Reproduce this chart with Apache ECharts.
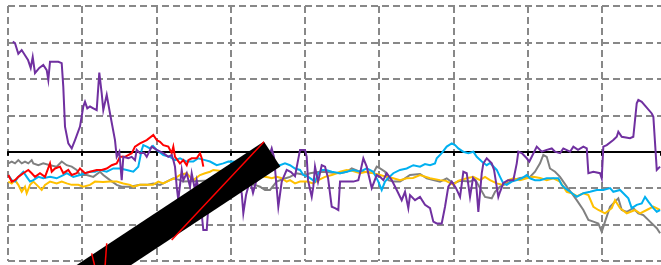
<!DOCTYPE html>
<html lang="en">

<head>
    <meta charset="UTF-8">
    <title>Line chart</title>
    <script type="text/javascript" src="https://cdn.jsdelivr.net/npm/echarts/dist/echarts.min.js"></script>
    <style>
        html,
        body {
            margin: 0;
            padding: 0;
            background: #fff;
        }

        #main {
            width: 661px;
            height: 265px;
        }
    </style>
</head>

<body>
    <div id="main"></div>

    <script type="text/javascript">
        // values: [x, y]
        var purple = [[1.27, 30.2], [1.89, 29.8], [2.78, 26.9], [3.69, 27.9], [4.58, 26.5], [5.39, 25.2], [6.12, 23.0], [6.66, 26.0], [7.28, 21.6], [8.43, 23.0], [9.51, 23.8], [10.43, 22.4], [10.86, 19.7], [11.32, 24.7], [13.56, 24.7], [14.47, 24.3], [14.9, 17.8], [15.36, 6.9], [16.25, 2.3], [17.17, 0.9], [18.06, 3.2], [19.4, 6.9], [20.29, 12.4], [20.75, 13.7], [21.37, 11.9], [22.1, 12.4], [22.99, 11.9], [23.9, 11.4], [24.6, 21.7], [25.25, 16.0], [25.68, 11.4], [26.6, 15.6], [27.49, 10.5], [28.83, 3.2], [29.29, -1.4], [29.99, 0], [30.64, -7.8], [31.07, -1.4], [32.42, -1.8], [33.34, -1.4], [34.22, -2.3], [34.68, 0.5], [35.57, -0.4], [36.65, -0.3], [37.38, -1.4], [38.72, 1.4], [40.07, 0.5], [41.85, -0.4], [43.2, -1.4], [44.11, -0.9], [44.55, -2.3], [45.0, -4.1], [45.46, -9.6], [45.89, -13.3], [46.81, -5.0], [47.24, -7.8], [48.16, -5.9], [49.05, -9.6], [49.5, -5.9], [50.39, -10.5], [50.85, -7.8], [51.74, -12.4], [52.63, -21.5], [53.09, -22.0], [53.55, -21.5], [53.98, -15.1], [57.13, -7.8], [60.36, -5.0], [62.98, -11.4], [63.41, -16.9], [64.14, -11.9], [65.21, -7.8], [66.02, -11.3], [66.83, -8.3], [68.45, -6.4], [70.06, -2.3], [71.06, 0.9], [71.68, -1.5], [72.84, -15.1], [73.76, -8.2], [75.1, -5.0], [76.26, -5.6], [77.34, -6.7], [78.69, 0.5], [80.04, 0.5], [80.49, -1.4], [80.84, -7.8], [81.84, -12.4], [82.27, -9.6], [82.73, -4.1], [83.54, -8.3], [84.54, -3.7], [85.43, -4.1], [86.24, -7.2], [87.23, -15.1], [88.12, -15.5], [89.01, -16.0], [89.47, -8.2], [91.27, -8.2], [93.05, -8.2], [94.4, -7.8], [94.86, -5.9], [95.75, -1.8], [96.66, -4.1], [98.01, -10.0], [98.44, -10.5], [99.36, -6.4], [100.25, -6.9], [101.13, -7.8], [102.05, -5.9], [103.4, -7.8], [104.75, -10.5], [106.09, -13.3], [106.98, -11.0], [107.87, -15.5], [108.33, -11.9], [109.68, -13.3], [111.02, -12.4], [112.37, -14.6], [113.72, -15.5], [114.61, -19.2], [115.53, -19.7], [116.87, -19.7], [117.76, -15.1], [118.65, -9.6], [119.57, -8.2], [120.73, -10.0], [121.81, -12.4], [122.7, -5.5], [123.61, -5.9], [124.5, -12.4], [125.31, -7.2], [126.12, -8.3], [126.74, -16.5], [127.66, -5.9], [128.09, -3.2], [129.0, -1.8], [130.35, -3.2], [130.97, -5.0], [132.13, -12.4], [132.59, -11.0], [133.48, -8.6], [134.74, -7.8], [136.17, -7.8], [137.09, -3.2], [137.52, 0], [138.44, -0.4], [139.78, -1.8], [140.48, -2.7], [141.13, -1.4], [142.48, 1.4], [143.82, 0], [145.17, 0.5], [146.52, 0.9], [147.41, 0], [148.75, -0.4], [149.64, 0.9], [151.45, 0], [152.34, 1.4], [153.6, 0.5], [155.04, 1.4], [155.96, 0.9], [156.39, -5.9], [157.74, -5.5], [159.53, -5.9], [159.99, -7.3], [160.42, 1.4], [161.34, 1.8], [163.11, 3.2], [164.03, 4.1], [164.46, 5.5], [165.38, 4.1], [167.61, 3.7], [168.5, 4.1], [169.42, 13.3], [169.85, 14.2], [170.77, 13.7], [173.47, 10.5], [173.9, 9.6], [174.82, -5.0], [175.71, -4.1]];

        var gray = [[0.08, -3.2], [1.0, -2.7], [1.89, -3.2], [2.78, -2.3], [3.69, -3.2], [4.58, -2.7], [5.47, -3.2], [6.39, -2.3], [6.82, -3.2], [8.17, -3.7], [9.51, -3.2], [11.32, -3.7], [13.12, -4.1], [14.47, -2.7], [15.82, -3.7], [17.17, -4.1], [18.51, -5.0], [19.4, -6.4], [21.21, -6.4], [22.99, -6.9], [24.79, -5.5], [25.68, -6.4], [27.49, -7.8], [29.29, -9.1], [30.64, -9.6], [32.88, -9.6], [35.57, -9.1], [37.38, -9.1], [39.16, -8.7], [40.96, -9.1], [42.77, -8.2], [44.55, -7.3], [46.35, -7.8], [47.24, -8.2], [57.13, -7.8], [63.87, -8.9], [66.56, -9.1], [67.91, -9.6], [69.26, -10.5], [70.6, -10.5], [72.41, -8.2], [74.1, -7.5], [75.99, -6.9], [77.8, -5.9], [80.04, -6.4], [81.38, -5.9], [83.54, -5.6], [85.43, -5.5], [87.58, -5.8], [89.47, -5.9], [91.27, -5.5], [92.62, -4.6], [94.32, -5.3], [96.47, -5.6], [98.44, -5.9], [99.36, -4.1], [100.25, -4.6], [101.6, -5.5], [102.48, -7.8], [103.83, -8.2], [105.64, -8.2], [106.98, -7.3], [108.33, -6.4], [111.02, -6.1], [112.83, -7.3], [114.61, -7.8], [116.41, -8.2], [118.22, -7.3], [120.0, -8.7], [121.81, -8.0], [124.5, -8.2], [125.85, -7.5], [127.19, -10.0], [128.54, -12.4], [130.35, -12.8], [131.24, -11.0], [132.59, -9.6], [134.39, -8.7], [136.17, -7.8], [137.97, -7.2], [140.66, -6.9], [142.01, -5.5], [143.36, -3.2], [144.25, -0.9], [145.17, -1.4], [146.05, -4.6], [147.41, -5.5], [148.75, -6.9], [150.56, -9.6], [151.91, -11.4], [153.25, -13.3], [155.04, -16.0], [156.39, -18.7], [157.74, -19.2], [159.08, -19.7], [159.99, -22.0], [160.88, -19.2], [162.23, -15.1], [163.57, -13.7], [164.46, -12.8], [165.38, -16.0], [166.73, -16.5], [168.5, -15.5], [169.85, -16.9], [171.2, -17.4], [173.0, -19.2], [174.82, -21.0], [175.71, -22.4]];

        var cyan = [[0.08, -6.4], [1.0, -7.8], [1.89, -8.2], [2.78, -6.9], [4.12, -5.5], [5.04, -6.9], [5.93, -8.2], [6.82, -7.8], [8.17, -6.9], [9.51, -7.3], [11.32, -6.9], [13.12, -7.3], [14.9, -6.4], [15.82, -5.9], [17.6, -6.9], [19.4, -6.4], [20.75, -5.9], [22.1, -5.5], [23.44, -5.5], [24.79, -5.0], [26.6, -5.5], [28.38, -4.6], [30.18, -4.6], [31.99, -5.0], [33.77, -5.5], [35.11, -4.1], [36.03, 0.5], [36.46, 1.8], [37.38, 1.4], [38.27, 0.9], [39.07, 1.6], [40.07, 0.5], [41.85, -0.9], [43.66, -1.4], [45.0, -2.3], [46.35, -1.8], [48.16, -2.7], [49.94, -2.7], [51.28, -1.8], [53.09, -2.3], [54.44, -2.7], [56.24, -3.7], [58.02, -3.2], [59.37, -2.7], [63.87, -2.8], [69.26, -3.1], [73.3, -3.7], [74.64, -3.2], [75.99, -3.7], [77.34, -4.6], [78.69, -5.0], [79.58, -6.4], [80.93, -6.9], [82.73, -8.2], [83.62, -5.9], [84.54, -5.0], [85.7, -5.0], [87.23, -5.5], [89.47, -5.9], [91.27, -5.5], [93.05, -5.0], [94.86, -5.5], [96.66, -4.6], [98.44, -5.5], [99.79, -8.2], [100.7, -10.5], [101.59, -8.2], [102.48, -7.2], [103.83, -5.9], [105.64, -5.0], [107.44, -4.6], [109.22, -3.7], [111.02, -4.1], [112.37, -3.4], [113.72, -3.7], [115.06, -3.2], [115.53, -1.8], [116.87, -0.4], [118.22, 1.4], [119.57, 2.3], [120.46, 1.8], [121.35, 0.9], [122.7, 0], [124.04, -0.4], [125.39, 0], [126.31, -1.4], [127.66, -2.7], [129.0, -3.7], [129.89, -3.1], [131.7, -5.0], [132.59, -6.9], [133.48, -8.7], [134.39, -9.1], [135.74, -8.2], [137.09, -7.8], [138.44, -7.3], [139.78, -6.4], [140.66, -7.3], [142.01, -7.8], [143.36, -7.8], [145.17, -7.3], [146.95, -7.3], [148.3, -7.3], [149.21, -9.1], [150.1, -10.0], [151.45, -11.0], [153.25, -12.4], [155.04, -11.4], [156.85, -11.0], [158.65, -10.5], [160.42, -10.5], [162.23, -10.0], [163.11, -11.0], [164.92, -10.5], [165.81, -11.4], [167.16, -12.8], [168.07, -15.5], [169.42, -14.6], [170.77, -14.2], [171.66, -12.4], [172.55, -13.7], [173.9, -15.5], [174.82, -16.5], [175.71, -16.0]];

        var yellow = [[0.08, -8.2], [1.0, -8.7], [1.89, -7.8], [2.78, -9.1], [3.69, -11.0], [4.58, -9.6], [5.04, -11.4], [5.93, -9.1], [6.82, -8.2], [7.73, -9.1], [9.08, -10.5], [9.97, -9.1], [11.32, -8.2], [13.12, -8.7], [14.47, -8.2], [15.82, -8.7], [17.17, -9.1], [18.95, -9.1], [20.29, -9.6], [22.1, -9.1], [23.44, -8.2], [25.6, -8.3], [27.49, -8.2], [29.29, -8.2], [31.07, -8.7], [32.88, -9.1], [33.77, -9.6], [35.57, -9.1], [37.38, -9.1], [39.07, -9.1], [40.5, -8.2], [41.85, -8.7], [43.66, -7.8], [45.0, -7.3], [46.35, -6.4], [48.16, -5.9], [49.05, -6.9], [49.94, -7.8], [51.74, -6.4], [53.09, -5.9], [54.44, -5.5], [55.33, -5.0], [64.67, -6.2], [70.06, -7.0], [71.06, -7.3], [72.41, -6.9], [73.57, -7.2], [75.1, -8.2], [75.99, -7.8], [77.34, -8.7], [78.69, -8.2], [80.49, -8.2], [82.27, -8.7], [83.62, -7.8], [85.43, -6.9], [87.23, -6.4], [88.58, -5.9], [89.47, -5.5], [91.27, -5.0], [92.97, -5.3], [94.86, -5.9], [96.66, -5.5], [98.44, -5.9], [100.25, -6.4], [102.05, -6.9], [103.83, -7.3], [105.64, -7.8], [107.44, -7.3], [109.14, -7.2], [111.02, -6.4], [113.72, -7.3], [116.41, -7.8], [118.03, -8.0], [120.0, -9.1], [121.27, -8.0], [123.61, -7.3], [125.39, -6.9], [127.19, -7.8], [128.54, -6.9], [129.89, -7.8], [131.7, -8.7], [133.48, -9.1], [134.83, -7.8], [136.17, -7.3], [137.97, -7.8], [139.78, -7.3], [141.56, -6.9], [143.36, -7.2], [145.17, -7.8], [146.95, -7.3], [148.75, -8.2], [150.56, -11.0], [151.91, -11.4], [153.33, -12.2], [155.04, -11.4], [156.39, -11.9], [157.74, -15.1], [159.08, -16.0], [160.88, -16.9], [162.69, -15.5], [163.57, -13.3], [164.92, -15.5], [166.73, -16.9], [168.96, -16.0], [170.31, -16.9], [172.11, -16.0], [173.9, -15.1], [175.71, -16.0]];

        var red = [[0.08, -6.4], [1.0, -8.2], [1.89, -7.8], [2.78, -6.9], [4.12, -5.9], [5.47, -5.0], [6.39, -5.9], [7.28, -6.9], [8.62, -5.9], [9.97, -6.9], [11.32, -3.2], [11.78, -5.5], [12.67, -4.6], [14.01, -4.1], [14.9, -5.9], [16.25, -5.0], [17.17, -6.4], [18.51, -5.9], [19.4, -4.6], [20.75, -5.9], [22.1, -5.5], [23.9, -5.0], [25.25, -5.0], [26.6, -4.6], [27.95, -3.7], [29.29, -3.2], [30.18, -1.4], [31.53, -1.4], [33.34, -0.4], [34.22, 1.4], [35.57, 2.3], [37.38, 3.2], [39.16, 4.6], [40.07, 3.2], [40.96, 2.7], [41.85, 1.8], [43.2, 1.4], [44.11, -0.4], [44.55, 1.4], [45.0, -1.4], [46.35, -3.2], [47.24, -2.3], [48.16, -3.7], [48.6, -2.3], [49.5, -1.8], [50.85, -1.8], [51.74, -0.4], [52.2, -1.8], [52.63, -4.1]];

        // the thick black bar and the red strokes over it
        var bar = [[15.63, -37.96], [71.17, -0.63]];
        var barRedA = [[68.98, 2.75], [44.11, -24.24]];
        var barRedB = [[22.55, -27.89], [23.44, -31.65]];
        var barRedC = [[26.6, -25.14], [26.14, -31.65]];

        // the plot runs on past the right edge of the picture
        var xMin = 0, xMax = 175.96, xStep = 20;
        var yMin = -30, yMax = 40, yStep = 10;

        var myChart = echarts.init(document.getElementById('main'));

        function line(name, data, color, width, z) {
            return {
                name: name,
                type: 'line',
                data: data,
                showSymbol: false,
                symbol: 'none',
                clip: false,
                z: z,
                lineStyle: { color: color, width: width, cap: 'butt', join: 'miter' }
            };
        }

        option = {
            animation: false,
            backgroundColor: '#fff',
            grid: {
                left: 8,
                right: 0,
                top: 6,
                bottom: 4,
                containLabel: false
            },
            xAxis: {
                type: 'value',
                min: xMin,
                max: xMax,
                interval: xStep,
                axisLine: {
                    onZero: true,
                    lineStyle: { color: '#000', width: 2 }
                },
                axisTick: {
                    show: true,
                    inside: false,
                    length: 4,
                    lineStyle: { color: '#000', width: 2 }
                },
                axisLabel: { show: false },
                splitLine: {
                    show: true,
                    showMaxLine: false,
                    lineStyle: { color: '#888', width: 2, type: [7, 4] }
                }
            },
            yAxis: {
                type: 'value',
                min: yMin,
                max: yMax,
                interval: yStep,
                axisLine: { show: false },
                axisTick: { show: false },
                axisLabel: { show: false },
                splitLine: {
                    show: true,
                    lineStyle: { color: '#888', width: 2, type: [7, 4] }
                }
            },
            series: [
                line('gray', gray, '#808080', 2, 2),
                line('yellow', yellow, '#FFC000', 2, 3),
                line('cyan', cyan, '#00B0F0', 2, 4),
                line('red', red, '#FF0000', 2, 5),
                line('purple', purple, '#7030A0', 2, 6),
                line('bar', bar, '#000', 30, 7),
                line('barRedA', barRedA, '#FF0000', 1.5, 8),
                line('barRedB', barRedB, '#FF0000', 1.5, 8),
                line('barRedC', barRedC, '#FF0000', 1.5, 8)
            ]
        };

        myChart.setOption(option);
        window.addEventListener("resize", function () {
            myChart.resize()
        })
    </script>
</body>

</html>
